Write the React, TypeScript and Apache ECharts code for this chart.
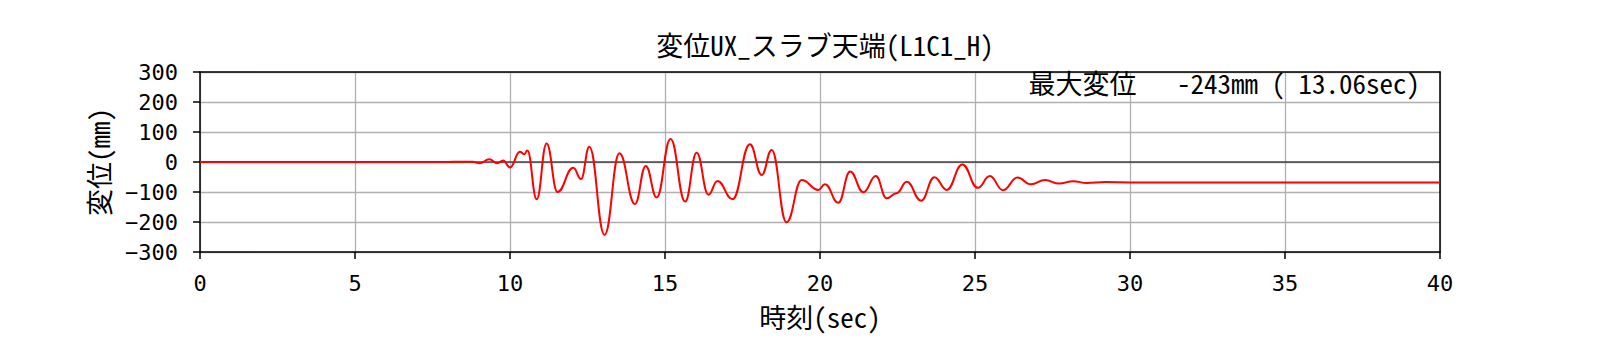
import React, { useEffect, useRef } from "react";
import * as echarts from "echarts";

const titleText = "変位UX_スラブ天端(L1C1_H)";
const xAxisName = "時刻(sec)";
const yAxisName = "変位(mm)";
const noteText = "最大変位   -243mm ( 13.06sec)";

const timeSec = [
  0, 8.0, 8.4, 8.8, 9.03, 9.33, 9.59, 9.78, 10.0, 10.32, 10.46, 10.56, 10.86,
  11.18, 11.53, 12.04, 12.29, 12.56, 13.05, 13.53, 14.03, 14.38, 14.73, 15.18,
  15.65, 16.02, 16.4, 16.69, 17.18, 17.74, 18.12, 18.44, 18.92, 19.41, 19.95,
  20.16, 20.59, 20.97, 21.4, 21.8, 22.15, 22.47, 22.8, 23.26, 23.69, 24.09,
  24.59, 25.09, 25.48, 25.9, 26.37, 26.8, 27.26, 27.71, 28.17, 28.6, 29.2, 30,
  40,
];
const dispMm = [
  0, 0, 1, 1, -4, 9, -4, 5, -18, 34, 26, 38, -124, 62, -100, -19, -57, 51,
  -243, 29, -140, -13, -118, 77, -132, 31, -109, -63, -124, 59, -43, 40, -201,
  -60, -93, -74, -136, -32, -101, -47, -121, -104, -66, -129, -51, -93, -8,
  -86, -47, -94, -52, -74, -60, -72, -64, -70, -67, -68, -68,
];
const zeroLineX = [0, 40];
const zeroLineY = [0, 0];

const FONT = "'Noto Sans Mono CJK JP', 'Noto Sans CJK JP', sans-serif";
const TICK_FONT = "'DejaVu Sans Mono', 'Noto Sans Mono CJK JP', monospace";

export default function App() {
  const ref = useRef<HTMLDivElement>(null);
  useEffect(() => {
    if (!ref.current) return;
    const chart = echarts.init(ref.current, undefined, { renderer: "svg" });
    const seriesData = timeSec.map((t, i) => [t, dispMm[i]]);
    const zeroData = zeroLineX.map((t, i) => [t, zeroLineY[i]]);
    const gridColor = "#b0b0b0";
    chart.setOption({
      animation: false,
      backgroundColor: "#ffffff",
      textStyle: { fontFamily: FONT },
      title: {
        text: titleText,
        left: 820,
        textAlign: "center",
        top: 26,
        textStyle: { fontFamily: FONT, fontSize: 27, fontWeight: "normal", color: "#000" },
      },
      grid: { left: 200, right: 160, top: 72, bottom: 108, containLabel: false },
      xAxis: [
        {
          type: "value",
          min: 0,
          max: 40,
          interval: 5,
          name: xAxisName,
          nameLocation: "middle",
          nameGap: 51,
          nameTextStyle: { fontFamily: FONT, fontSize: 27, color: "#000" },
          axisLine: { show: true, onZero: false, lineStyle: { color: "#000", width: 1.5 } },
          axisTick: { show: true, inside: false, length: 7, lineStyle: { color: "#000", width: 1.5 } },
          axisLabel: { margin: 20, fontFamily: TICK_FONT, fontSize: 22, lineHeight: 22, color: "#000" },
          splitLine: { show: true, lineStyle: { color: gridColor, width: 1.3 } },
        },
        {
          type: "value",
          position: "top",
          min: 0,
          max: 40,
          interval: 5,
          axisLine: { show: true, onZero: false, lineStyle: { color: "#000", width: 1.5 } },
          axisTick: { show: false },
          axisLabel: { show: false },
          splitLine: { show: false },
        },
      ],
      yAxis: [
        {
          type: "value",
          min: -300,
          max: 300,
          interval: 100,
          name: yAxisName,
          nameLocation: "middle",
          nameGap: 88,
          nameRotate: 90,
          nameTextStyle: { fontFamily: FONT, fontSize: 27, color: "#000" },
          axisLine: { show: true, onZero: false, lineStyle: { color: "#000", width: 1.5 } },
          axisTick: { show: true, inside: false, length: 7, lineStyle: { color: "#000", width: 1.5 } },
          axisLabel: {
            margin: 22,
            fontFamily: TICK_FONT,
            fontSize: 22,
            lineHeight: 22,
            color: "#000",
            formatter: (v: number) => (v < 0 ? "\u2212" + Math.abs(v) : String(v)),
          },
          splitLine: { show: true, lineStyle: { color: gridColor, width: 1.3 } },
        },
        {
          type: "value",
          position: "right",
          min: -300,
          max: 300,
          interval: 100,
          axisLine: { show: true, onZero: false, lineStyle: { color: "#000", width: 1.5 } },
          axisTick: { show: false },
          axisLabel: { show: false },
          splitLine: { show: false },
        },
      ],
      graphic: [
        {
          type: "text",
          right: 180,
          top: 69,
          style: {
            text: noteText,
            font: `27px ${FONT}`,
            fill: "#000",
          },
          z: 100,
        },
      ],
      series: [
        {
          type: "line",
          name: "zero",
          data: zeroData,
          symbol: "none",
          silent: true,
          lineStyle: { color: "#000", width: 1.2 },
          z: 1,
        },
        {
          type: "line",
          name: "UX",
          data: seriesData,
          symbol: "none",
          smooth: 0.45,
          smoothMonotone: "x",
          lineStyle: { color: "#ff0000", width: 2 },
          z: 3,
        },
      ],
    });
    return () => chart.dispose();
  }, []);
  return (
    <div
      ref={ref}
      style={{ position: "absolute", left: 0, top: 0, width: 1600, height: 360 }}
    />
  );
}
